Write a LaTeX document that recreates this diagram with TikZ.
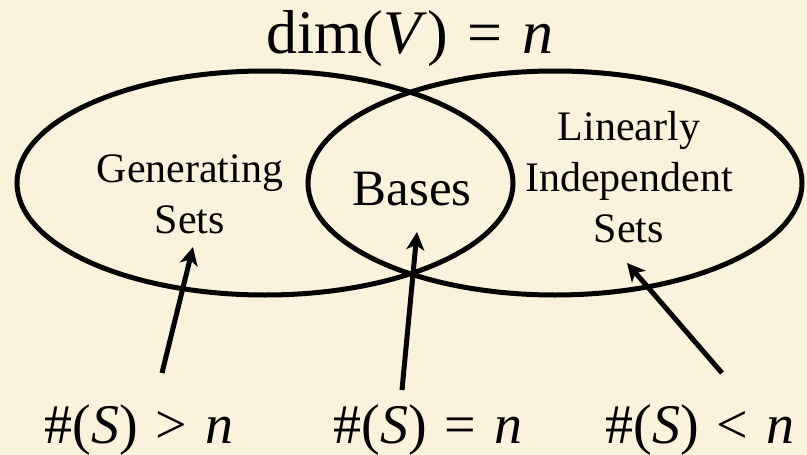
\documentclass[tikz,border=0pt]{standalone}
\usepackage{fontspec}
\setmainfont{Liberation Serif}
\usepackage{tikz}
\usetikzlibrary{arrows.meta, positioning, shapes.geometric}
\definecolor{parchment}{RGB}{251,242,220}
\newcommand{\rsp}{\hspace{0.32em}}

\begin{document}
\begin{tikzpicture}[x=1pt, y=-1pt, line width=5pt, >={Stealth[length=18pt, width=18pt, inset=5pt]}]

        % Page
        \fill[parchment] (0,0) rectangle (807,455);
        \useasboundingbox (0,0) rectangle (807,455);

        % Set ellipses
        \node[ellipse, draw, inner sep=0pt, minimum width=496pt, minimum height=224pt] (gen) at (265,183) {};
        \node[ellipse, draw, inner sep=0pt, minimum width=494pt, minimum height=224pt] (lin) at (555,183) {};

        % Set labels
        \node[align=center, inner sep=0pt, font=\fontsize{42}{51}\selectfont] (genText) at (190,194) {Generating\\Sets};
        \node[align=center, inner sep=0pt, font=\fontsize{42}{51}\selectfont] (linText) at (629,177) {Linearly\\Independent\\Sets};
        \node[anchor=base, inner sep=0pt, font=\fontsize{51}{60}\selectfont] (basText) at (412,205) {Bases};

        % Title
        \node[anchor=base, inner sep=0pt, font=\fontsize{62}{70}\selectfont] (dimText) at (410,53) {dim(\textit{V})\rsp=\rsp\textit{n}};

        % Size conditions
        \node[anchor=base, inner sep=0pt, font=\fontsize{56}{64}\selectfont] (gtText) at (139,443) {\#(\textit{S})\rsp>\rsp\textit{n}};
        \node[anchor=base, inner sep=0pt, font=\fontsize{56}{64}\selectfont] (eqText) at (428,443) {\#(\textit{S})\rsp=\rsp\textit{n}};
        \node[anchor=base, inner sep=0pt, font=\fontsize{56}{64}\selectfont] (ltText) at (700,443) {\#(\textit{S})\rsp<\rsp\textit{n}};

        % Arrow ends
        \coordinate (gtTail) at (162,373);
        \coordinate (genTip) at (193,247);
        \coordinate (eqTail) at (402,390);
        \coordinate (basTip) at (417,232);
        \coordinate (ltTail) at (722,373);
        \coordinate (linTip) at (627,263);

        % Arrows
        \draw[->] (gtTail) -- (genTip);
        \draw[->] (eqTail) -- (basTip);
        \draw[->] (ltTail) -- (linTip);

\end{tikzpicture}
\end{document}
